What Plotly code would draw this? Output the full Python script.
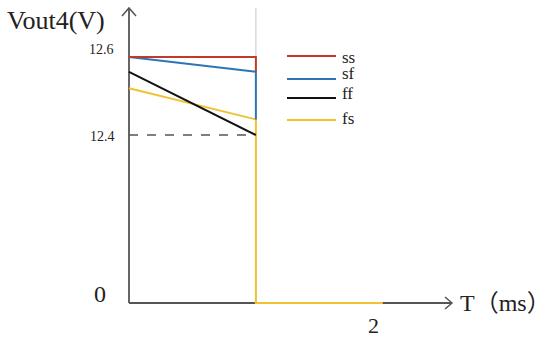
import plotly.graph_objects as go

# ---------------- data ----------------
series_names = ["ss", "sf", "ff", "fs"]
series_colors = ["#c0392b", "#2e75b6", "#111111", "#f0c232"]
t_ss = [0, 1.04, 1.04]
v_ss = [12.6, 12.6, 12.562]
t_sf = [0, 1.04, 1.04]
v_sf = [12.6, 12.562, 12.44]
t_ff = [0, 1.04]
v_ff = [12.562, 12.4]
t_fs = [0, 1.04, 1.04, 2.08]
v_fs = [12.52, 12.44, 0, 0]
ref_level = 12.4
t_switch = 1.04
y_tick_vals = [12.6, 12.4, 0]
y_tick_text = ["12.6", "12.4", "0"]
x_tick_vals = [2]
x_tick_text = ["2"]

# ------------- layout constants -------------
W, H = 550, 339
X0_PX, PX_PER_MS = 129, 122
Y126_PX, PX_PER_V = 57, 390
ZERO_PX = 303
Y_ZERO = 12.6 - (ZERO_PX - Y126_PX) / PX_PER_V  # broken axis: where 0 V sits


def yt(v):
    return v if v >= 12 else Y_ZERO + v


def tx(px):
    return (px - X0_PX) / PX_PER_MS


def ty(px):
    return 12.6 - (px - Y126_PX) / PX_PER_V


fig = go.Figure()
all_t = [t_ss, t_sf, t_ff, t_fs]
all_v = [v_ss, v_sf, v_ff, v_fs]
for name, col, t, v in zip(series_names, series_colors, all_t, all_v):
    fig.add_trace(go.Scatter(x=t, y=[yt(a) for a in v], mode="lines", name=name,
                             line=dict(color=col, width=2), showlegend=False))
# draw order: ss on top like reference
fig.data = (fig.data[3], fig.data[2], fig.data[1], fig.data[0])

axis_col = "#555555"
top_y = ty(8)
right_x = tx(452)
shapes = [
    dict(type="line", x0=t_switch, x1=t_switch, y0=Y_ZERO, y1=top_y,
         line=dict(color="#c8c8c8", width=1), layer="below"),
    dict(type="line", x0=0, x1=0, y0=Y_ZERO, y1=top_y, line=dict(color=axis_col, width=1.8), layer="below"),
    dict(type="line", x0=0, x1=right_x, y0=Y_ZERO, y1=Y_ZERO, line=dict(color=axis_col, width=1.8), layer="below"),
    # arrow heads
    dict(type="path", path=f"M {-7/PX_PER_MS} {top_y-8/PX_PER_V} L 0 {top_y} L {7/PX_PER_MS} {top_y-8/PX_PER_V}",
         line=dict(color=axis_col, width=1.5)),
    dict(type="path", path=f"M {right_x-7/PX_PER_MS} {Y_ZERO+6/PX_PER_V} L {right_x} {Y_ZERO} L {right_x-7/PX_PER_MS} {Y_ZERO-6/PX_PER_V}",
         line=dict(color=axis_col, width=1.5)),
    dict(type="line", x0=0, x1=t_switch, y0=ref_level, y1=ref_level,
         line=dict(color=axis_col, width=1.5, dash="dash"), layer="below"),
]

serif = "Liberation Serif, Times New Roman, serif"
ann = []
# legend (custom)
leg_line_px = [56, 79, 98, 120]
leg_text_px = [57, 73, 93, 118]
for name, col, lp, tp in zip(series_names, series_colors, leg_line_px, leg_text_px):
    shapes.append(dict(type="line", x0=tx(287), x1=tx(336), y0=ty(lp), y1=ty(lp),
                       line=dict(color=col, width=2)))
    ann.append(dict(x=tx(340), y=ty(tp), text=name, showarrow=False, xanchor="left", yanchor="middle",
                    font=dict(family=serif, size=17, color="#222")))
# y tick labels
y_shift = [8, -1, 9]
y_size = [14, 14, 24]
y_right = [116, 117, 108]
for v, txt, sh, sz, rp in zip(y_tick_vals, y_tick_text, y_shift, y_size, y_right):
    ann.append(dict(x=tx(rp), y=yt(v), text=txt, showarrow=False, xanchor="right", yanchor="middle",
                    yshift=sh, font=dict(family=serif, size=sz, color="#222")))
for v, txt in zip(x_tick_vals, x_tick_text):
    ann.append(dict(x=v, y=Y_ZERO, text=txt, showarrow=False, xanchor="center", yanchor="middle",
                    yshift=-22, font=dict(family=serif, size=22, color="#222")))
# axis titles
ann.append(dict(x=5 / W, y=1 - 21 / H, xref="paper", yref="paper", text="Vout4(V)", showarrow=False,
                xanchor="left", yanchor="middle", font=dict(family=serif, size=26, color="#222")))
ann.append(dict(x=tx(458), y=Y_ZERO, text="T（ms）", showarrow=False, xanchor="left", yanchor="middle",
                font=dict(family=serif + ", Noto Sans CJK SC", size=24, color="#222")))

fig.update_layout(
    width=W, height=H, margin=dict(l=0, r=0, t=0, b=0),
    paper_bgcolor="white", plot_bgcolor="white",
    xaxis=dict(visible=False, range=[tx(0), tx(W)], fixedrange=True),
    yaxis=dict(visible=False, range=[ty(H), ty(0)], fixedrange=True),
    shapes=shapes, annotations=ann, showlegend=False,
)
fig.write_html("out.html", config={"displayModeBar": False},
               post_script="document.body.style.margin='0';document.body.style.overflow='hidden';")
